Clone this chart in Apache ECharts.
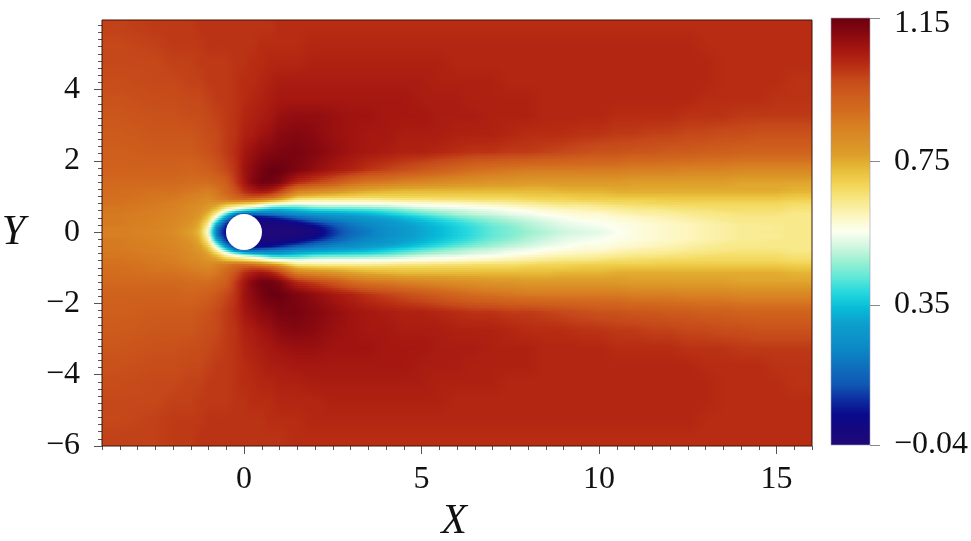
<!DOCTYPE html>
<html><head><meta charset="utf-8">
<script src="https://cdn.jsdelivr.net/npm/echarts@6/dist/echarts.min.js"></script>
<style>html,body{margin:0;padding:0;background:#fff}#c{width:971px;height:541px}</style></head>
<body><div id="c"></div>
<script>
const xCentres=[-3.5,-2.5,-2,-1.5,-1.25,-1,-.75,-.5,-.25,0,.25,.5,.75,1,1.5,2,2.5,3,3.5,4,4.5,5,5.5,6,6.5,7,7.5,8,8.5,9,9.5,10,10.5,11,11.5,12,12.5,13,13.5,14,14.5,15,15.5];
const yCentres=[5.75,5.25,4.75,4.25,3.75,3.25,2.75,2.25,1.75,1.4,1.15,1,.9,.8,.7,.6,.5,.4,.3,.2,.1,0,-.1,-.2,-.3,-.4,-.5,-.6,-.7,-.8,-.9,-1,-1.15,-1.4,-1.75,-2.25,-2.75,-3.25,-3.75,-4.25,-4.75,-5.25,-5.75];
// speed, in hundredths; one row per yCentres entry
const upperRows=[
[99,100,100,100,101,101,101,101,101,101,101,101,101,102,102,102,102,102,102,102,102,102,102,102,102,102,102,102,102,102,102,102,102,102,102,102,102,102,102,102,102,102,102],
[98,99,100,100,100,101,101,101,101,101,101,102,102,102,102,103,103,103,103,103,103,103,103,103,103,103,103,103,103,103,103,103,103,103,103,103,103,102,102,102,102,102,102],
[98,98,99,99,100,100,100,100,101,101,102,102,103,103,103,104,104,104,104,104,104,104,104,103,103,103,103,103,103,103,103,103,103,103,103,103,103,103,102,102,102,102,102],
[97,98,98,99,99,100,100,100,101,102,102,103,104,105,105,105,105,105,105,105,105,105,104,104,104,104,103,103,103,103,103,103,103,103,103,103,103,103,102,102,102,102,101],
[96,97,97,98,98,99,100,100,101,102,103,104,105,106,106,106,106,106,106,106,106,105,105,105,104,104,104,104,103,103,103,103,103,103,103,103,103,102,102,102,102,101,101],
[95,96,96,97,97,98,99,100,101,103,104,105,106,108,109,109,108,107,107,106,106,106,105,105,105,104,104,104,103,103,103,103,102,102,102,102,101,101,101,100,100,100,100],
[94,95,95,95,96,97,98,100,101,104,105,107,108,110,111,110,108,107,106,106,105,105,105,104,104,104,103,102,102,102,101,101,100,100,99,99,98,98,97,97,96,96,96],
[93,94,94,94,95,96,98,100,102,106,108,110,111,112,113,111,109,107,106,105,104,104,103,102,101,101,100,100,99,98,97,96,96,95,95,94,94,93,93,92,92,92,92],
[92,92,92,91,92,93,95,98,101,107,110,113,115,115,112,109,106,104,101,99,97,95,93,91,89,88,87,86,86,86,86,86,86,85,85,85,84,84,84,83,83,83,83],
[90,90,90,89,89,89,91,93,100,106,111,114,114,112,103,99,95,90,87,86,84,83,82,81,80,79,79,78,78,78,78,78,78,77,77,77,77,77,77,76,76,76,76],
[89,88,88,87,86,85,87,91,96,102,105,107,105,100,85,82,80,77,75,74,73,73,73,73,73,73,73,73,73,74,74,74,75,75,75,75,75,75,75,75,75,75,74],
[89,87,87,85,84,83,86,88,92,96,98,97,94,88,74,72,71,70,69,69,69,69,69,69,69,69,69,70,70,70,71,71,72,72,72,72,72,72,72,72,72,72,71],
[88,87,86,84,83,81,84,86,88,88,86,83,79,74,63,62,62,62,62,63,64,64,65,65,66,66,66,67,68,68,69,69,69,69,69,70,70,70,70,70,70,70,69],
[88,86,85,83,82,80,78,74,72,70,68,64,60,58,55,56,56,56,56,56,57,58,58,59,60,61,62,63,64,65,65,66,67,67,68,68,68,68,68,68,68,68,67],
[87,86,85,82,81,78,74,66,62,58,55,50,44,42,42,46,47,47,48,49,51,53,54,55,56,57,58,60,61,62,62,63,64,65,65,66,66,67,67,67,67,67,66],
[87,85,84,82,80,76,68,56,46,38,33,30,28,28,33,36,37,38,39,41,44,47,49,50,52,53,55,56,58,59,60,61,62,63,63,64,65,65,66,66,66,66,65],
[86,85,84,81,79,73,60,40,18,12,14,16,18,20,24,27,29,31,33,36,39,42,45,48,50,51,53,54,56,57,58,58,60,61,62,62,63,64,64,65,65,65,64],
[86,85,83,81,78,70,50,25,6,2,2,3,5,8,15,20,23,25,28,31,34,37,40,43,46,48,50,52,54,55,57,57,58,59,60,61,62,63,64,64,64,64,64],
[86,84,83,80,76,66,38,12,4,2,2,2,1,2,6,13,18,22,25,27,31,34,37,40,43,46,48,50,52,54,55,56,57,58,59,60,61,62,63,64,64,64,64],
[86,84,83,79,75,62,26,6,2,0,0,-2,-2,-1,1,6,13,19,23,26,29,32,35,38,41,44,46,49,51,53,54,55,56,57,58,59,60,61,62,63,63,64,64],
[85,84,82,78,74,58,18,4,0,-2,-2,-3,-3,-3,-2,1,10,17,21,25,28,31,34,37,40,43,45,48,50,52,53,54,56,57,58,59,60,61,62,63,63,63,64],
[85,83,82,77,73,56,15,3,0,-2,-3,-3,-3,-3,-3,0,9,16,20,25,28,31,34,37,40,43,45,47,49,51,52,53,55,57,58,59,60,61,62,63,63,64,64]
];
const lowerRows=[
[85,84,82,78,74,58,18,4,0,-2,-2,-3,-3,-3,-2,1,10,17,21,25,28,31,34,37,40,43,45,48,50,52,53,54,56,57,58,59,60,61,62,63,63,63,64],
[86,84,83,79,75,62,26,6,2,0,0,-2,-2,-1,1,6,13,19,23,26,29,32,35,38,41,44,46,49,51,53,54,55,56,57,58,59,60,61,62,63,63,64,64],
[86,84,83,80,76,66,38,12,4,2,2,2,1,2,6,13,18,22,25,27,31,34,37,40,43,46,48,50,52,54,55,56,57,58,59,60,61,62,63,64,64,64,64],
[86,85,83,81,78,70,50,25,6,2,2,3,5,8,15,20,23,25,28,31,34,37,40,43,46,48,50,52,54,55,57,57,58,59,60,61,62,63,64,64,64,64,64],
[86,85,84,81,79,73,60,40,18,12,14,16,18,20,24,27,29,31,33,36,39,42,45,48,50,51,53,54,56,57,58,58,60,61,62,62,63,64,64,65,65,65,64],
[87,85,84,82,80,76,68,56,46,38,33,30,28,28,33,36,37,38,39,41,44,47,49,50,52,53,55,56,58,59,60,61,62,63,63,64,65,65,66,66,66,66,65],
[87,86,85,82,81,78,74,66,62,58,55,50,44,42,42,46,47,47,48,49,51,53,54,55,56,57,58,60,61,62,62,63,64,65,65,66,66,67,67,67,67,67,66],
[88,86,85,83,82,80,78,74,72,70,68,64,60,58,55,56,56,56,56,56,57,58,58,59,60,61,62,63,64,65,65,66,67,67,68,68,68,68,68,68,68,68,67],
[88,87,86,84,83,81,84,86,88,88,86,83,79,74,63,62,62,62,62,63,64,64,65,65,66,66,66,67,68,68,69,69,69,69,69,70,70,70,70,70,70,70,69],
[89,87,87,85,84,83,86,88,92,96,98,97,94,88,74,72,71,70,69,69,69,69,69,69,69,69,69,70,70,70,71,71,72,72,72,72,72,72,72,72,72,72,71],
[89,88,88,87,86,85,87,91,96,102,105,107,105,100,85,82,80,77,75,74,73,73,73,73,73,73,73,73,73,74,74,74,75,75,75,75,75,75,75,75,75,75,74],
[90,90,90,89,89,89,91,93,100,106,111,114,114,112,103,99,95,90,87,86,84,83,82,81,80,79,79,78,78,78,78,78,78,77,77,77,77,77,77,76,76,76,76],
[92,92,92,91,92,93,95,98,101,107,110,113,115,115,112,109,106,104,101,99,97,95,93,91,89,88,87,86,86,86,86,86,86,85,85,85,84,84,84,83,83,83,83],
[93,94,94,94,95,96,98,100,102,106,108,110,111,113,113,111,109,107,106,105,104,104,103,102,101,101,100,100,99,98,97,96,96,95,95,94,94,93,93,92,92,92,92],
[94,95,95,95,96,97,98,100,101,104,105,107,108,110,111,110,108,107,106,106,105,105,105,104,104,104,103,102,102,102,101,101,100,100,99,99,98,98,97,97,96,96,96],
[95,96,96,97,97,98,99,100,101,103,104,105,106,107,108,108,107,107,107,106,106,106,105,105,105,104,104,104,103,103,103,103,102,102,102,102,101,101,101,100,100,100,100],
[96,97,97,98,98,99,100,100,101,102,103,104,105,105,106,106,106,106,106,106,106,105,105,105,104,104,104,104,103,103,103,103,103,103,103,103,103,102,102,102,102,101,101],
[97,98,98,99,99,100,100,100,101,102,102,103,103,104,104,105,105,105,105,105,105,105,104,104,104,104,103,103,103,103,103,103,103,103,103,103,103,103,102,102,102,102,101],
[98,98,99,99,100,100,100,100,101,101,102,102,102,103,103,103,104,104,104,104,104,104,104,103,103,103,103,103,103,103,103,103,103,103,103,103,103,103,102,102,102,102,102],
[98,99,100,100,100,101,101,101,101,101,101,101,102,102,102,103,103,103,103,103,103,103,103,103,103,103,103,103,103,103,103,103,103,103,103,103,103,102,102,102,102,102,102],
[99,99,100,100,101,101,101,101,101,101,101,101,101,101,102,102,102,102,102,102,102,102,102,102,102,102,102,102,102,102,102,102,102,102,102,102,102,102,102,102,102,102,102]
];
const xMajorTicks=[0,5,10,15];
const xMinorTicks=[-4,-3.5,-3,-2.5,-2,-1.5,-1,-.5,.5,1,1.5,2,2.5,3,3.5,4,4.5,5.5,6,6.5,7,7.5,8,8.5,9,9.5,10.5,11,11.5,12,12.5,13,13.5,14,14.5,15.5,16];
const yMajorTicks=[-6,-4,-2,0,2,4];
const yMinorTicks=[-5.8,-5.6,-5.4,-5.2,-5,-4.8,-4.6,-4.4,-4.2,-3.8,-3.6,-3.4,-3.2,-3,-2.8,-2.6,-2.4,-2.2,-1.8,-1.6,-1.4,-1.2,-1,-.8,-.6,-.4,-.2,.2,.4,.6,.8,1,1.2,1.4,1.6,1.8,2.2,2.4,2.6,2.8,3,3.2,3.4,3.6,3.8,4.2,4.4,4.6,4.8,5,5.2,5.4,5.6,5.8];
const barTicks=[-0.04,0.35,0.75,1.15];
const barRange=[[-0.04,1.15]];
const cylinder=[[0,0]];
const ramp=['#200878','#16087f','#0a0a8c','#0c2ea0','#1058b4','#0e6cbc','#0c82c4','#0c92c8','#0ca0ce','#08bcd8','#24d8de','#60e8d8','#98f0d0','#d0f6e0','#fcfff0','#fdf6c0','#f8e98a','#f3d658','#e8be3a','#de9f2a','#da8e26','#d77e22','#d26a1e','#cd5c1c','#c5481a','#b62a12','#a31510','#860810','#6b0010'];

const allRows=upperRows.concat(lowerRows);
const cells=[];
allRows.forEach((r,j)=>r.forEach((v,i)=>cells.push([xCentres[i],yCentres[j],v/100,i,j])));
const edge=(a,i,lo,hi)=>[i===0?lo:(a[i-1]+a[i])/2,i===a.length-1?hi:(a[i]+a[i+1])/2];
const vMin=-0.04,vMax=1.15;
const rgb=ramp.map(h=>[1,3,5].map(k=>parseInt(h.substr(k,2),16)));
const colourOf=v=>{
  const t=Math.max(0,Math.min(1,(v-vMin)/(vMax-vMin)))*(rgb.length-1);
  const k=Math.min(rgb.length-2,Math.floor(t)),f=t-k;
  return 'rgb('+rgb[k].map((c,n)=>Math.round(c+(rgb[k+1][n]-c)*f)).join(',')+')';
};
// smooth shading of the read lattice at drawing time
const locate=(a,x,desc)=>{
  const n=a.length;
  const s=desc?-1:1;
  if(s*x<=s*a[0])return [0,0,0];
  if(s*x>=s*a[n-1])return [n-1,n-1,0];
  let k=0; while(s*a[k+1]<s*x)k++;
  return [k,k+1,(x-a[k])/(a[k+1]-a[k])];
};
const field=(x,y)=>{
  const [i0,i1,fx]=locate(xCentres,x,false),[j0,j1,fy]=locate(yCentres,y,true);
  const a=allRows[j0][i0]+(allRows[j0][i1]-allRows[j0][i0])*fx;
  const b=allRows[j1][i0]+(allRows[j1][i1]-allRows[j1][i0])*fx;
  return (a+(b-a)*fy)/100;
};
const serif='"Liberation Serif","Times New Roman",serif';
const minus=v=>String(v).replace('-','\u2212');
const chart=echarts.init(document.getElementById('c'),null,{renderer:'canvas'});
chart.setOption({
 animation:false,backgroundColor:'#fff',
 grid:[{left:102,top:20,width:710,height:426,show:true,borderColor:'#3a1408',borderWidth:1,backgroundColor:'transparent',z:5,containLabel:false,outerBoundsMode:'none'},
       {left:831,top:18,width:39,height:427,containLabel:false,outerBoundsMode:'none'}],
 xAxis:[
  {type:'value',gridIndex:0,min:-4,max:16,position:'bottom',splitLine:{show:false},
   axisLine:{show:false,onZero:false},axisTick:{show:true,length:8,customValues:xMajorTicks,lineStyle:{color:'#555'}},
   axisLabel:{customValues:xMajorTicks,formatter:minus,fontFamily:serif,fontSize:32,color:'#111',margin:18},
   name:'X',nameLocation:'middle',nameGap:52,nameTextStyle:{fontFamily:serif,fontStyle:'italic',fontSize:42,color:'#111',padding:[0,6,0,0]}},
  {type:'value',gridIndex:0,min:-4,max:16,position:'bottom',splitLine:{show:false},axisLine:{show:false,onZero:false},
   axisTick:{show:true,length:4,customValues:xMinorTicks,lineStyle:{color:'#555'}},axisLabel:{show:false}},
  {type:'value',gridIndex:1,min:0,max:1,show:false}
 ],
 yAxis:[
  {type:'value',gridIndex:0,min:-6,max:5.95,position:'left',splitLine:{show:false},
   axisLine:{show:false,onZero:false},axisTick:{show:true,length:8,customValues:yMajorTicks,lineStyle:{color:'#555'}},
   axisLabel:{customValues:yMajorTicks,formatter:minus,fontFamily:serif,fontSize:32,color:'#111',margin:22},
   name:'Y',nameLocation:'middle',nameRotate:0,nameGap:77,nameTextStyle:{fontFamily:serif,fontStyle:'italic',fontSize:42,color:'#111'}},
  {type:'value',gridIndex:0,min:-6,max:5.95,position:'left',splitLine:{show:false},axisLine:{show:false,onZero:false},
   axisTick:{show:true,length:4,customValues:yMinorTicks,lineStyle:{color:'#555'}},axisLabel:{show:false}},
  {type:'value',gridIndex:1,min:-0.04,max:1.15,position:'right',splitLine:{show:false},axisLine:{show:false,onZero:false},
   axisTick:{show:true,length:10,customValues:barTicks,lineStyle:{color:'#888'}},
   axisLabel:{customValues:barTicks,margin:24,fontFamily:serif,fontSize:32,color:'#111',
     formatter:v=>v>1?'{t|1.15}':minus(v.toFixed(2)),rich:{t:{fontFamily:serif,fontSize:32,color:'#111',padding:[12,0,0,0]}}}}
 ],
 visualMap:[{type:'continuous',seriesIndex:0,dimension:2,min:vMin,max:vMax,show:false,inRange:{color:ramp}}],
 series:[
  {type:'custom',xAxisIndex:0,yAxisIndex:0,z:1,silent:true,progressive:0,clip:true,
   encode:{x:0,y:1},data:cells,
   renderItem(params,api){
     const i=api.value(3),j=api.value(4);
     const xe=edge(xCentres,i,-4,16),ye=edge(yCentres,j,5.95,-6);
     const a=api.coord([xe[0],ye[0]]),b=api.coord([xe[1],ye[1]]);
     const x0=Math.round(a[0]),x1=Math.round(b[0]),y0=Math.round(a[1]),y1=Math.round(b[1]);
     const nStops=Math.max(2,Math.ceil((x1-x0)/4)+1);
     const children=[];
     for(let py=y0;py<y1;py+=2){
       const ph=Math.min(2,y1-py);
       const yv=ye[0]+(ye[1]-ye[0])*(py+ph/2-a[1])/(b[1]-a[1]);
       const stops=[];
       for(let n=0;n<nStops;n++){const f=n/(nStops-1);stops.push({offset:f,color:colourOf(field(xe[0]+(xe[1]-xe[0])*f,yv))});}
       children.push({type:'rect',shape:{x:x0,y:py,width:x1-x0,height:ph},
         style:{fill:new echarts.graphic.LinearGradient(0,0,1,0,stops)}});
     }
     return {type:'group',children};
   }},
  {type:'scatter',xAxisIndex:0,yAxisIndex:0,z:3,silent:true,symbol:'circle',symbolSize:36,itemStyle:{color:'#fff',opacity:1},data:cylinder},
  {type:'custom',xAxisIndex:2,yAxisIndex:2,z:1,silent:true,data:barRange,encode:{y:[0,1]},
   renderItem(params,api){
     const a=api.coord([0,api.value(1)]),b=api.coord([1,api.value(0)]);
     const stops=ramp.map((c,n)=>({offset:1-n/(ramp.length-1),color:c}));
     return {type:'rect',shape:{x:a[0],y:a[1],width:b[0]-a[0],height:b[1]-a[1]},
       style:{fill:new echarts.graphic.LinearGradient(0,0,0,1,stops),stroke:'#9a9ab8',lineWidth:0.6}};
   }}
 ]
});
</script></body></html>
